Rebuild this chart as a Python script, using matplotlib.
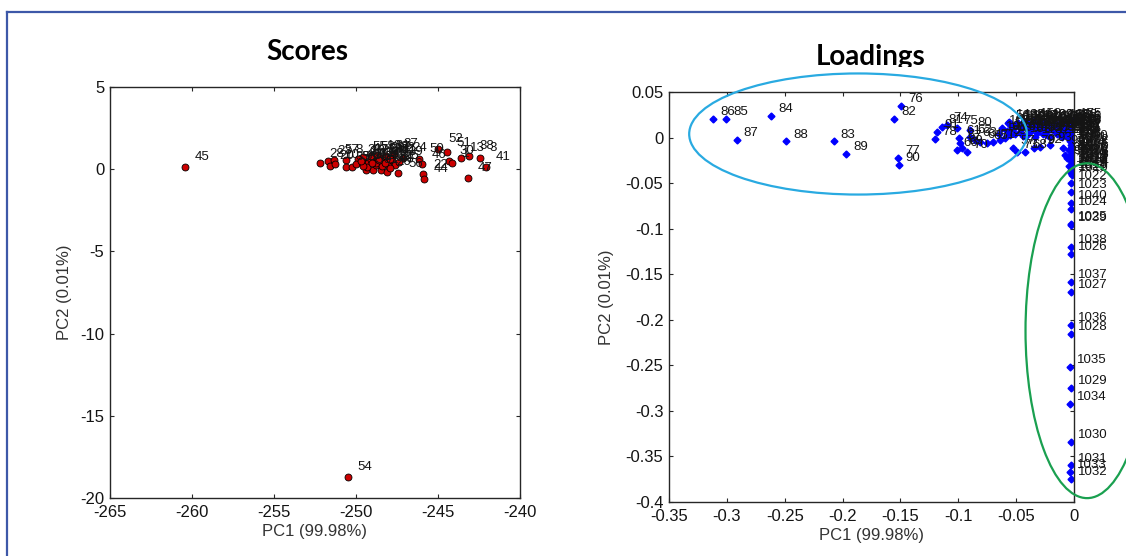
"""PCA scores / loadings figure (two MATLAB-style panels with outline ellipses)."""
import matplotlib
matplotlib.use("Agg")
import matplotlib.pyplot as plt
from matplotlib.patches import Ellipse
from matplotlib.lines import Line2D
from matplotlib.transforms import Bbox, TransformedBbox

plt.rcParams["font.family"] = ["Liberation Sans", "DejaVu Sans"]
plt.rcParams["axes.unicode_minus"] = False

# ---- scores (samples) ----
SCORE_LABELS = ["28", "23", "20", "57", "10", "8", "35", "36", "2", "4",
                "5", "6", "7", "9", "11", "12", "14", "15", "17", "19",
                "21", "25", "26", "37", "24", "56", "50", "46", "22", "44",
                "52", "51", "30", "1", "13", "38", "3", "41", "47", "45",
                "54", "55", "58", "29", "31", "32", "33", "34", "39", "40",
                "42", "43", "48", "16", "27", "18", "49", "53", "59", "60"]
SCORE_PC1 = [-252.20, -251.73, -251.59, -251.32, -251.28, -250.61, -250.61, -250.26, -249.76, -249.55,
             -249.39, -249.25, -249.10, -248.95, -248.78, -248.64, -248.49, -248.34, -248.17, -248.03,
             -247.82, -247.62, -248.13, -247.70, -247.13, -247.42, -246.14, -245.99, -245.90, -245.85,
             -244.98, -244.47, -244.31, -244.16, -243.62, -243.09, -242.44, -242.07, -243.15, -260.43,
             -250.48, -249.57, -249.08, -248.50, -248.20, -247.90, -249.90, -248.80, -247.40, -250.00,
             -249.30, -248.40, -247.90, -248.70, -249.60, -249.70, -249.00, -248.60, -248.25, -247.95]
SCORE_PC2 = [0.35, 0.51, 0.20, 0.55, 0.29, 0.55, 0.14, 0.14, 0.45, 0.65,
             -0.02, 0.35, 0.55, -0.02, 0.24, 0.65, -0.06, 0.45, 0.75, 0.24,
             0.55, 0.24, -0.16, 0.95, 0.67, -0.26, 0.65, 0.29, -0.32, -0.57,
             1.22, 1.02, 0.49, 0.35, 0.69, 0.79, 0.69, 0.14, -0.53, 0.13,
             -18.70, 0.75, 0.78, 0.70, 0.80, 0.70, 0.60, 0.40, 0.45, 0.30,
             0.15, 0.20, 0.05, 0.85, 0.20, 0.50, 0.35, 0.55, 0.40, 0.60]
SCORE_XTICKS = [-265, -260, -255, -250, -245, -240]
SCORE_YTICKS = [5, 0, -5, -10, -15, -20]

# ---- loadings (variables) ----
LOAD_LABELS = ["86", "85", "84", "87", "88", "83", "89", "82", "76", "77", "90",
               "78", "91", "81", "74", "75", "80", "66", "69", "70", "61", "67",
               "62", "63", "64", "65", "71", "72", "59", "58", "57", "73", "68",
               "79", "92", "93", "94", "95", "96", "56", "142", "143", "169",
               "1020", "1021", "1022", "1023", "1040", "1024", "1025", "1039", "1038",
               "1026", "1037", "1027", "1036", "1028", "1035", "1029", "1034", "1030",
               "1031", "1033", "1032"]
LOAD_PC1 = [-0.3116, -0.3006, -0.2619, -0.2913, -0.2488, -0.2078, -0.1969, -0.1556, -0.1494, -0.1522, -0.1513,
            -0.1200, -0.1181, -0.1143, -0.1100, -0.1015, -0.0898, -0.1013, -0.0970, -0.0927, -0.0994, -0.0985,
            -0.0898, -0.0855, -0.0812, -0.0754, -0.0697, -0.0639, -0.0596, -0.0553, -0.0524, -0.0495, -0.0423,
            -0.0350, -0.0293, -0.0207, -0.0092, -0.0078, -0.0063, -0.0570, -0.0480, -0.0400, -0.0250,
            -0.0026, -0.0030, -0.0024, -0.0028, -0.0022, -0.0026, -0.0030, -0.0025, -0.0028,
            -0.0026, -0.0024, -0.0026, -0.0030, -0.0028, -0.0035, -0.0030, -0.0032, -0.0028,
            -0.0030, -0.0032, -0.0030]
LOAD_PC2 = [0.0207, 0.0207, 0.0234, -0.0028, -0.0043, -0.0043, -0.0180, 0.0207, 0.0348, -0.0223, -0.0305,
            -0.0020, 0.0057, 0.0119, 0.0137, 0.0100, 0.0082, -0.0137, -0.0119, -0.0156, -0.0009, -0.0064,
            0.0009, -0.0027, -0.0046, -0.0064, -0.0046, -0.0027, -0.0009, 0.0027, -0.0119, -0.0156, -0.0156,
            -0.0119, -0.0101, -0.0082, -0.0119, -0.0192, -0.0229, 0.0160, 0.0160, 0.0165, 0.0170,
            -0.0328, -0.0394, -0.0503, -0.0595, -0.0723, -0.0789, -0.0950, -0.0960, -0.1200,
            -0.1273, -0.1584, -0.1694, -0.2060, -0.2152, -0.2518, -0.2749, -0.2921, -0.3343,
            -0.3599, -0.3672, -0.3745]

# dense block of near-zero loadings (labels overlap into a black mass)
DENSE_LABELS = [str(n) for n in
                [101, 102, 103, 104, 105, 106, 107, 108, 109, 110, 111, 112, 113, 114, 115, 116,
                 117, 118, 119, 120, 121, 122, 123, 124, 125, 126, 127, 128, 129, 130, 131, 132,
                 133, 134, 135, 136, 137, 138, 139, 140, 141, 144, 145, 146, 147, 148,
                 149, 150, 151, 152, 153, 154, 155, 156, 157, 158, 159, 160, 161, 162, 163,
                 164, 165, 166, 167, 168, 170, 171, 172, 173, 174, 175, 176, 177, 178, 179,
                 1000, 1001, 1002, 1003, 1004, 1005, 1006, 1007, 1008, 1009, 1010, 1011,
                 1012, 1013, 1014, 1015, 996, 997, 998, 999, 1016, 1017, 1018, 1019]]
DENSE_PC1 = [-0.065, -0.062, -0.058, -0.054, -0.051, -0.049, -0.046, -0.044, -0.042, -0.040,
             -0.038, -0.036, -0.034, -0.033, -0.031, -0.029, -0.027, -0.026, -0.024, -0.022,
             -0.021, -0.019, -0.018, -0.016, -0.015, -0.013, -0.012, -0.011, -0.010, -0.009,
             -0.008, -0.007, -0.006, -0.005, -0.005, -0.004, -0.004, -0.003, -0.003, -0.002,
             -0.002, -0.002, -0.001, -0.001, -0.001, -0.001,
             -0.056, -0.053, -0.050, -0.047, -0.045, -0.043, -0.041, -0.039, -0.037, -0.035,
             -0.032, -0.030, -0.028, -0.025, -0.023, -0.020, -0.017, -0.014, -0.012, -0.010,
             -0.008, -0.006, -0.004, -0.003, -0.002, -0.001, -0.0015, -0.0025, -0.0035, -0.001,
             -0.002, -0.003, -0.001, -0.002, -0.004, -0.001, -0.002, -0.003, -0.001, -0.002,
             -0.003, -0.001, -0.002, -0.004, -0.001, -0.003,
             -0.001, -0.003, -0.002, -0.004, -0.001, -0.002, -0.003, -0.002]
DENSE_PC2 = [0.004, 0.010, 0.007, 0.012, 0.004, 0.014, 0.009, 0.002, 0.015, 0.011,
             0.006, 0.016, 0.001, 0.012, 0.008, 0.015, 0.004, 0.011, 0.007, 0.015,
             0.001, 0.012, 0.008, 0.014, 0.004, 0.010, 0.016, 0.006, 0.001, 0.012,
             0.008, 0.015, 0.003, 0.011, 0.006, 0.014, -0.001, 0.009, 0.004, 0.012,
             0.007, 0.001, 0.015, 0.010, 0.005, -0.003,
             0.017, 0.009, 0.015, 0.006, 0.012, 0.017, 0.003, 0.013, 0.009, 0.018,
             0.005, 0.013, 0.010, 0.017, 0.003, 0.009, 0.016, 0.007, 0.013, 0.017,
             0.004, 0.010, 0.017, 0.002, 0.016, 0.018, 0.003, -0.002, -0.004, 0.012,
             -0.006, -0.008, -0.010, -0.012, -0.014, -0.016, -0.018, -0.020, -0.022, -0.024,
             -0.026, -0.028, -0.030, -0.031, -0.034, -0.036,
             -0.005, -0.011, -0.017, -0.021, -0.027, -0.032, -0.038, -0.041]
LOAD_XTICKS = [-0.35, -0.3, -0.25, -0.2, -0.15, -0.1, -0.05, 0]
LOAD_XTICKLABELS = ["-0.35", "-0.3", "-0.25", "-0.2", "-0.15", "-0.1", "-0.05", "0"]
LOAD_YTICKS = [0.05, 0, -0.05, -0.1, -0.15, -0.2, -0.25, -0.3, -0.35, -0.4]
LOAD_YTICKLABELS = ["0.05", "0", "-0.05", "-0.1", "-0.15", "-0.2", "-0.25", "-0.3", "-0.35", "-0.4"]

W, H = 1126, 556
TXT = "#141414"


def style_axes(ax):
    for sp in ax.spines.values():
        sp.set_color("#262626")
        sp.set_linewidth(1.0)
    ax.tick_params(direction="in", length=3, width=0.8, top=True, right=True,
                   labelsize=12, labelcolor=TXT, color="#262626")
    ax.tick_params(axis="x", pad=5)
    ax.tick_params(axis="y", pad=4)


fig = plt.figure(figsize=(W / 100, H / 100), dpi=100)

# slide frame
fig.add_artist(Line2D([7 / W, 1], [1 - 12 / H, 1 - 12 / H], color="#3d58a8", lw=1.6))
fig.add_artist(Line2D([7 / W, 7 / W], [0, 1 - 12 / H], color="#3d58a8", lw=1.6))

# ---------------- Scores ----------------
ax1 = fig.add_axes([110 / W, 1 - 498 / H, 410 / W, 411 / H])
ax1.plot(SCORE_PC1, SCORE_PC2, "o", ms=5, mfc="#cc0000", mec="black", mew=0.6)
for lbl, x, y in zip(SCORE_LABELS, SCORE_PC1, SCORE_PC2):
    ax1.annotate(lbl, (x, y), xytext=(7, 7), textcoords="offset points",
                 fontsize=9.5, color=TXT, ha="left", va="center")
ax1.set_xlim(-265, -240)
ax1.set_ylim(-20, 5)
ax1.set_xticks(SCORE_XTICKS)
ax1.set_yticks(SCORE_YTICKS)
ax1.set_xlabel("PC1 (99.98%)", fontsize=12, color="#333333", labelpad=3)
ax1.set_ylabel("PC2 (0.01%)", fontsize=12, color="#333333", labelpad=6)
style_axes(ax1)

# ---------------- Loadings ----------------
ax2 = fig.add_axes([669 / W, 1 - 502 / H, 405 / W, 410 / H])
ax2.plot(DENSE_PC1, DENSE_PC2, "D", ms=3.5, color="blue")
ax2.plot(LOAD_PC1, LOAD_PC2, "D", ms=3.5, color="blue")
for lbl, x, y in list(zip(DENSE_LABELS, DENSE_PC1, DENSE_PC2)) + \
        list(zip(LOAD_LABELS, LOAD_PC1, LOAD_PC2)):
    ax2.annotate(lbl, (x, y), xytext=(5, 5), textcoords="offset points",
                 fontsize=9.5, color=TXT, ha="left", va="center")
ax2.set_xlim(-0.35, 0)
ax2.set_ylim(-0.4, 0.05)
ax2.set_xticks(LOAD_XTICKS)
ax2.set_xticklabels(LOAD_XTICKLABELS)
ax2.set_yticks(LOAD_YTICKS)
ax2.set_yticklabels(LOAD_YTICKLABELS)
ax2.set_xlabel("PC1 (99.98%)", fontsize=12, color="#333333", labelpad=3)
ax2.set_ylabel("PC2 (0.01%)", fontsize=12, color="#333333", labelpad=8)
style_axes(ax2)

# highlight ellipses
ax2.add_patch(Ellipse((-0.1866, 0.0039), 0.2919, 0.1329, fill=False,
                      ec="#29aae1", lw=1.6, clip_on=False, zorder=10))
ax2.add_patch(Ellipse((0.0113, -0.2120), 0.1064, 0.3675, fill=False,
                      ec="#1aa050", lw=1.6, clip_on=False, zorder=10))

# titles
fig.text(307.7 / W, 1 - 60 / H, "Scores", fontsize=20, fontweight="bold",
         family="Lato", ha="center", va="baseline", color="black")
t = fig.text(870.7 / W, 1 - 65 / H, "Loadings", fontsize=20, fontweight="bold",
             family="Lato", ha="center", va="baseline", color="black")
t.set_clip_box(TransformedBbox(Bbox([[0, 1 - 66.5 / H], [1, 1]]), fig.transFigure))
t.set_clip_on(True)

fig.savefig("out.png", dpi=100)
